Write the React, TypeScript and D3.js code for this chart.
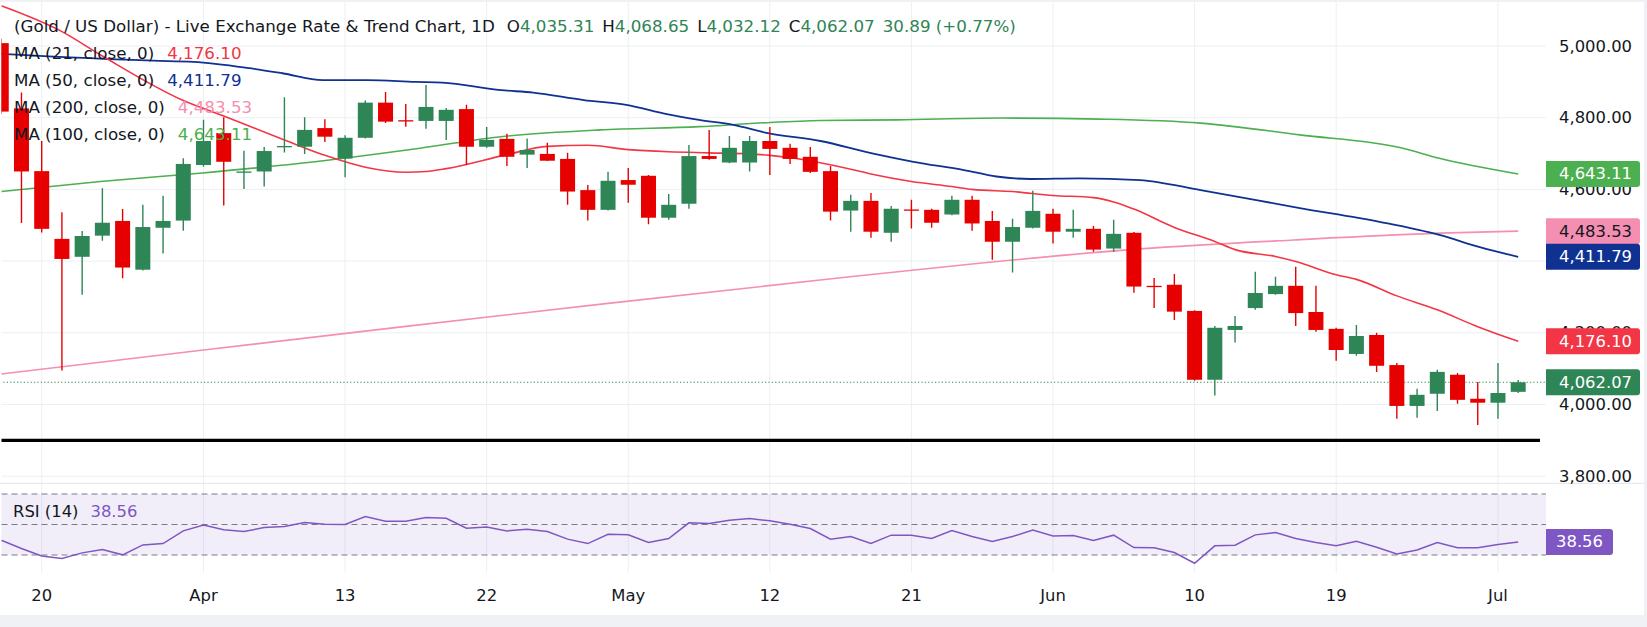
import React from 'react';
import * as d3 from 'd3';

const W = 1647;
const H = 627;

// daily candles, bar index 0..75 (Mar 18 .. Jul 2)
const opens = [
  5008, 4826, 4651, 4462, 4412, 4471, 4512, 4376, 4493, 4513,
  4668, 4757, 4648, 4650, 4720, 4719, 4771, 4686, 4744, 4842,
  4793, 4791, 4791, 4824, 4719, 4741, 4697, 4699, 4685, 4598,
  4543, 4626, 4638, 4521, 4560, 4693, 4675, 4675, 4735, 4716,
  4691, 4651, 4541, 4568, 4479, 4544, 4543, 4530, 4571, 4512,
  4454, 4493, 4532, 4482, 4490, 4435, 4479, 4331, 4334, 4261,
  4069, 4208, 4269, 4308, 4331, 4258, 4211, 4141, 4194, 4110,
  3996, 4030, 4083, 4016, 4005, 4035.31,
];
const highs = [
  5020, 4870, 4735, 4536, 4484, 4603, 4545, 4557, 4582, 4687,
  4794, 4801, 4708, 4718, 4857, 4801, 4796, 4751, 4848, 4872,
  4838, 4891, 4827, 4836, 4774, 4755, 4742, 4730, 4702, 4612,
  4649, 4660, 4640, 4587, 4724, 4766, 4749, 4749, 4774, 4727,
  4718, 4665, 4585, 4590, 4554, 4571, 4546, 4582, 4582, 4540,
  4518, 4596, 4546, 4543, 4498, 4515, 4481, 4353, 4364, 4263,
  4219, 4247, 4370, 4356, 4384, 4331, 4214, 4222, 4200, 4116,
  4044, 4097, 4088, 4063, 4116, 4068.65,
];
const lows = [
  4810, 4506, 4480, 4095, 4306, 4457, 4352, 4374, 4421, 4485,
  4663, 4555, 4601, 4608, 4703, 4699, 4732, 4634, 4742, 4785,
  4775, 4769, 4738, 4668, 4716, 4665, 4660, 4679, 4557, 4513,
  4541, 4563, 4503, 4515, 4546, 4683, 4673, 4650, 4640, 4671,
  4646, 4513, 4482, 4465, 4454, 4491, 4493, 4528, 4485, 4404,
  4368, 4491, 4449, 4465, 4426, 4426, 4312, 4269, 4236, 4066,
  4025, 4173, 4264, 4306, 4219, 4203, 4122, 4136, 4091, 3960,
  3963, 3982, 4002, 3943, 3960, 4032.12,
];
const closes = [
  4817, 4650, 4490, 4406, 4470, 4507, 4382, 4495, 4512, 4671,
  4735, 4677, 4650, 4707, 4721, 4766, 4747, 4744, 4842, 4789,
  4791, 4830, 4822, 4719, 4738, 4691, 4710, 4680, 4594, 4543,
  4624, 4613, 4521, 4557, 4693, 4685, 4716, 4735, 4713, 4685,
  4649, 4538, 4568, 4482, 4546, 4541, 4507, 4571, 4505, 4454,
  4495, 4540, 4482, 4490, 4432, 4476, 4329, 4329, 4259, 4069,
  4214, 4219, 4311, 4331, 4255, 4208, 4152, 4191, 4108, 3996,
  4027, 4091, 4013, 4005, 4032, 4062.07,
];

const rsi = [
  39.7, 34.3, 29.4, 27.7, 31.4, 33.6, 30.1, 36.6, 37.5, 45.8,
  49.7, 46.5, 45.4, 48.0, 48.7, 51.3, 50.2, 50.0, 55.2, 52.2,
  52.2, 54.6, 54.1, 47.6, 48.4, 45.8, 46.9, 45.4, 40.4, 37.5,
  43.6, 43.2, 38.2, 40.8, 51.1, 50.6, 52.8, 53.9, 52.4, 50.2,
  47.4, 40.4, 42.1, 37.5, 43.0, 43.0, 40.8, 46.1, 42.1, 38.9,
  42.1, 46.3, 42.5, 42.8, 39.5, 43.0, 34.9, 34.7, 31.6, 24.6,
  36.0, 36.4, 43.2, 44.7, 40.8, 38.2, 36.0, 39.0, 35.1, 30.7,
  33.3, 38.2, 34.7, 34.7, 36.9, 38.56,
];

// moving averages read at bar index: [index, value]
const ma21: [number, number][] = [
  [0, 5112], [3, 5040], [5, 4972], [9, 4848], [11, 4805], [14, 4738], [16, 4695],
  [18, 4662], [20, 4648], [21, 4650], [22, 4658], [25, 4697], [27, 4720], [29, 4723],
  [31, 4711], [33, 4705], [35, 4702], [37, 4699], [38, 4695], [40, 4680], [42, 4656],
  [43, 4643], [45, 4622], [47, 4608], [48, 4600], [50, 4594], [52, 4583], [54, 4577],
  [55, 4565], [56, 4545], [58, 4494], [60, 4455], [61, 4432], [63, 4413], [64, 4399],
  [66, 4362], [67, 4349], [69, 4303], [71, 4264], [73, 4217], [75, 4176.1],
];
const ma50: [number, number][] = [
  [0, 4978], [7.5, 4959], [9.5, 4956], [12.3, 4938], [13.9, 4924], [15.9, 4905],
  [18.1, 4905], [20.5, 4900], [21.8, 4898], [24.7, 4877], [26.3, 4870], [28.8, 4849],
  [30.9, 4836], [32.9, 4810], [34.5, 4794], [36.2, 4780], [37.9, 4757], [40.5, 4735],
  [43, 4701], [45.1, 4677], [47.6, 4654], [49.2, 4636], [50.9, 4629], [53.3, 4631],
  [56.3, 4626], [59.3, 4598], [64.2, 4548], [68.2, 4509], [71.1, 4473], [73.1, 4439],
  [75, 4411.79],
];
const ma100: [number, number][] = [
  [0, 4594], [4.9, 4622], [9.8, 4645], [14.8, 4673], [20.7, 4715], [24.7, 4747],
  [29.6, 4766], [34.5, 4775], [37.8, 4786], [40.5, 4792], [44.3, 4794], [49.4, 4799],
  [54.3, 4796], [59.3, 4785], [64.2, 4752], [69.2, 4716], [71.1, 4687], [75, 4643.11],
];
const ma200: [number, number][] = [
  [0, 4085], [10, 4152], [20, 4218], [30, 4282], [40.6, 4348], [48, 4392],
  [56.3, 4434], [63.9, 4459], [71.1, 4478], [75, 4483.53],
];

const dateTickIdx = [2, 10, 17, 24, 31, 38, 45, 52, 59, 66, 74];
const dateTickLabels = ['20', 'Apr', '13', '22', 'May', '12', '21', 'Jun', '10', '19', 'Jul'];
const priceTicks = [3800, 4000, 4200, 4400, 4600, 4800, 5000];
const supportLevel = 3900;
const rsiLevels = [30, 50, 70];

const FONT = '"DejaVu Sans", Verdana, sans-serif';
const TEXT = '#131722';
const UP = '#2e8555';
const DOWN = '#e60000';
const C21 = '#f23645';
const C50 = '#0f3292';
const C100 = '#4caf50';
const C200 = '#f48fb1';
const CRSI = '#7e57c2';
const GRID = '#eceff4';

export default function App() {
  const x = d3.scaleLinear().domain([0, 75]).range([1.25, 1518.2]);
  const y = d3.scaleLinear().domain([3800, 5000]).range([476.2, 46]);
  const yR = d3.scaleLinear().domain([30, 70]).range([555, 494]);

  const plotRight = 1546;
  const mainTop = 2;
  const mainBottom = 483.3;
  const rsiBottom = 572.5;
  const bodyW = 15;

  const maLine = d3
    .line<[number, number]>()
    .x((d) => x(d[0]))
    .y((d) => y(d[1]))
    .curve(d3.curveMonotoneX);

  const rsiLine = d3
    .line<number>()
    .x((_, i) => x(i))
    .y((d) => yR(d));

  const fmt = d3.format(',.2f');

  const axisBox = (value: number, bg: string, fg: string, key: string) => {
    const cy = y(value);
    return (
      <g key={key}>
        <path
          d={`M${plotRight},${cy - 13} H${1637} a3,3 0 0 1 3,3 V${cy + 10} a3,3 0 0 1 -3,3 H${plotRight} Z`}
          fill={bg}
        />
        <text x={1632} y={cy} textAnchor="end" dominantBaseline="central" fill={fg} fontSize={16.4}>
          {fmt(value)}
        </text>
      </g>
    );
  };

  const lastRsi = rsi[rsi.length - 1];

  return (
    <div style={{ position: 'absolute', left: 0, top: 0, width: W, height: H }}>
      <svg width={W} height={H} style={{ display: 'block', fontFamily: FONT }}>
        <defs>
          <clipPath id="mainClip">
            <rect x={1.5} y={mainTop} width={plotRight - 1.5} height={mainBottom - mainTop} />
          </clipPath>
          <clipPath id="rsiClip">
            <rect x={1.5} y={mainBottom + 1} width={plotRight - 1.5} height={rsiBottom - mainBottom - 1} />
          </clipPath>
        </defs>

        <rect x={0} y={0} width={W} height={H} fill="#eff1f5" />
        <rect x={0} y={2} width={1644} height={613} fill="#ffffff" />

        {/* grid */}
        {priceTicks.map((p) => (
          <line key={`hg${p}`} x1={1.5} x2={plotRight} y1={y(p)} y2={y(p)} stroke={GRID} strokeWidth={1} />
        ))}
        {dateTickIdx.map((i) => (
          <line key={`vg${i}`} x1={x(i)} x2={x(i)} y1={mainTop} y2={rsiBottom} stroke={GRID} strokeWidth={1} />
        ))}
        <line x1={0} x2={1644} y1={mainBottom} y2={mainBottom} stroke="#e0e3eb" strokeWidth={1} />

        {/* main pane */}
        <g clipPath="url(#mainClip)">
          <line
            x1={0}
            x2={plotRight}
            y1={y(closes[closes.length - 1])}
            y2={y(closes[closes.length - 1])}
            stroke={UP}
            strokeWidth={1}
            strokeDasharray="1.2,2.2"
          />
          <path d={maLine(ma200) || ''} fill="none" stroke={C200} strokeWidth={1.6} />
          <path d={maLine(ma100) || ''} fill="none" stroke={C100} strokeWidth={1.6} />
          <path d={maLine(ma50) || ''} fill="none" stroke={C50} strokeWidth={1.8} />
          <path d={maLine(ma21) || ''} fill="none" stroke={C21} strokeWidth={1.6} />
          {closes.map((c, i) => {
            const o = opens[i];
            const col = c >= o ? UP : DOWN;
            const top = y(Math.max(o, c));
            const bh = Math.max(1.3, y(Math.min(o, c)) - top);
            return (
              <g key={`c${i}`}>
                <line x1={x(i)} x2={x(i)} y1={y(highs[i])} y2={y(lows[i])} stroke={col} strokeWidth={1.4} />
                <rect x={x(i) - bodyW / 2} y={top} width={bodyW} height={bh} fill={col} />
              </g>
            );
          })}
          <line x1={0} x2={1540} y1={y(supportLevel)} y2={y(supportLevel)} stroke="#000" strokeWidth={3.2} />
        </g>

        {/* legend */}
        <text x={14} y={26} dominantBaseline="central" fontSize={16.7} fill={TEXT}>
          <tspan>(Gold / US Dollar) - Live Exchange Rate &amp; Trend Chart, 1D</tspan>
          <tspan dx={12}>O</tspan>
          <tspan fill={UP}>{fmt(opens[75])}</tspan>
          <tspan dx={8}>H</tspan>
          <tspan fill={UP}>{fmt(highs[75])}</tspan>
          <tspan dx={8}>L</tspan>
          <tspan fill={UP}>{fmt(lows[75])}</tspan>
          <tspan dx={8}>C</tspan>
          <tspan fill={UP}>{fmt(closes[75])}</tspan>
          <tspan dx={8} fill={UP}>30.89 (+0.77%)</tspan>
        </text>
        {[
          ['MA (21, close, 0)', ma21, C21],
          ['MA (50, close, 0)', ma50, C50],
          ['MA (200, close, 0)', ma200, C200],
          ['MA (100, close, 0)', ma100, C100],
        ].map(([label, series, col], k) => {
          const s = series as [number, number][];
          return (
            <text key={`lg${k}`} x={14} y={53 + k * 27} dominantBaseline="central" fontSize={16.7} fill={TEXT}>
              <tspan>{label as string}</tspan>
              <tspan dx={13} fill={col as string}>{fmt(s[s.length - 1][1])}</tspan>
            </text>
          );
        })}

        {/* price axis */}
        {priceTicks.map((p) => (
          <text key={`pt${p}`} x={1632} y={y(p)} textAnchor="end" dominantBaseline="central" fontSize={16.4} fill={TEXT}>
            {fmt(p)}
          </text>
        ))}
        {axisBox(ma100[ma100.length - 1][1], C100, '#fff', 'b100')}
        {axisBox(ma200[ma200.length - 1][1], C200, TEXT, 'b200')}
        {axisBox(ma50[ma50.length - 1][1], C50, '#fff', 'b50')}
        {axisBox(ma21[ma21.length - 1][1], C21, '#fff', 'b21')}
        {axisBox(closes[closes.length - 1], UP, '#fff', 'bc')}

        {/* RSI pane */}
        <rect
          x={1.5}
          y={yR(70)}
          width={plotRight - 1.5}
          height={yR(30) - yR(70)}
          fill={CRSI}
          fillOpacity={0.1}
        />
        {rsiLevels.map((lv) => (
          <line
            key={`rl${lv}`}
            x1={1.5}
            x2={plotRight}
            y1={yR(lv)}
            y2={yR(lv)}
            stroke="#787b86"
            strokeWidth={1}
            strokeDasharray="6,4"
          />
        ))}
        <g clipPath="url(#rsiClip)">
          <path d={rsiLine(rsi) || ''} fill="none" stroke={CRSI} strokeWidth={1.5} />
        </g>
        <text x={13} y={510.7} dominantBaseline="central" fontSize={16.4} fill={TEXT}>
          <tspan>RSI (14)</tspan>
          <tspan dx={12} fill={CRSI}>{lastRsi.toFixed(2)}</tspan>
        </text>
        <path
          d={`M${plotRight},${yR(lastRsi) - 13} H${1610} a3,3 0 0 1 3,3 V${yR(lastRsi) + 10} a3,3 0 0 1 -3,3 H${plotRight} Z`}
          fill={CRSI}
        />
        <text x={1579.5} y={yR(lastRsi)} textAnchor="middle" dominantBaseline="central" fontSize={16.4} fill="#fff">
          {lastRsi.toFixed(2)}
        </text>

        {/* time axis */}
        {dateTickIdx.map((i, k) => (
          <text key={`dt${i}`} x={x(i)} y={595} textAnchor="middle" dominantBaseline="central" fontSize={16.4} fill={TEXT}>
            {dateTickLabels[k]}
          </text>
        ))}
      </svg>
    </div>
  );
}
